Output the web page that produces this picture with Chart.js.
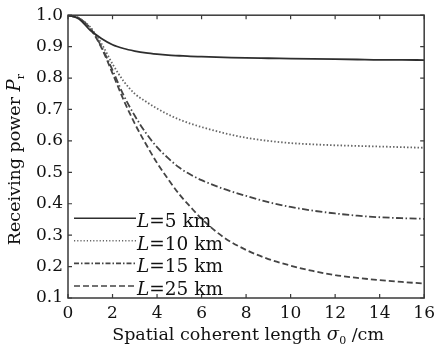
<!DOCTYPE html>
<html>
<head>
<meta charset="utf-8">
<script src="https://cdn.jsdelivr.net/npm/chart.js@4.4.1/dist/chart.umd.min.js"></script>
<style>
  html, body { margin: 0; padding: 0; background: #fff; }
  #wrap { width: 440px; height: 351px; }
</style>
</head>
<body>
<div id="wrap"><canvas id="powerChart" width="440" height="351"></canvas></div>
<script>
// ----------------- Data -----------------
const sigma0 = [0, 0.5, 1, 1.5, 2, 2.5, 3, 3.5, 4, 4.5, 5, 5.5, 6, 7, 8, 9, 10, 11, 12, 13, 14, 15, 16];
const pL5  = [1.0, 0.988, 0.952, 0.926, 0.906, 0.894, 0.886, 0.880, 0.876, 0.873, 0.871, 0.869, 0.868, 0.866, 0.864, 0.863, 0.862, 0.861, 0.860, 0.859, 0.858, 0.858, 0.857];
const pL10 = [1.0, 0.990, 0.962, 0.910, 0.845, 0.790, 0.750, 0.725, 0.703, 0.684, 0.668, 0.655, 0.644, 0.625, 0.610, 0.600, 0.593, 0.589, 0.586, 0.584, 0.582, 0.580, 0.578];
const pL15 = [1.0, 0.990, 0.958, 0.900, 0.825, 0.745, 0.680, 0.625, 0.580, 0.545, 0.515, 0.493, 0.475, 0.447, 0.425, 0.405, 0.390, 0.378, 0.369, 0.362, 0.357, 0.354, 0.352];
const pL25 = [1.0, 0.990, 0.957, 0.897, 0.815, 0.730, 0.655, 0.590, 0.530, 0.478, 0.430, 0.390, 0.352, 0.293, 0.253, 0.224, 0.203, 0.186, 0.173, 0.164, 0.157, 0.151, 0.146];
const legendLabels = ['=5 km', '=10 km', '=15 km', '=25 km'];
const xTicks = [0, 2, 4, 6, 8, 10, 12, 14, 16];
const yTicks = [0.1, 0.2, 0.3, 0.4, 0.5, 0.6, 0.7, 0.8, 0.9, 1.0];

// ----------------- Styles -----------------
const serif = "'DejaVu Serif', serif";
const lineStyles = [
  { color: '#2e2e2e', dash: [],                 legendDash: [] },
  { color: '#666666', dash: [1.5, 2],           legendDash: [1.2, 2] },
  { color: '#444444', dash: [7, 2.5, 1.5, 2.5], legendDash: [5, 2, 1.5, 2] },
  { color: '#444444', dash: [6, 3],             legendDash: [6, 3] }
];
const seriesList = [pL5, pL10, pL15, pL25];

const datasets = seriesList.map((vals, i) => ({
  label: 'L' + legendLabels[i],
  data: sigma0.map((x, j) => ({ x: x, y: vals[j] })),
  borderColor: lineStyles[i].color,
  borderDash: lineStyles[i].dash,
  borderWidth: 1.8,
  pointRadius: 0,
  fill: false,
  cubicInterpolationMode: 'monotone'
}));

// ----------------- Plugins -----------------
// frame + inward ticks on all four sides
const framePlugin = {
  id: 'frame',
  afterDatasetsDraw(chart) {
    const { ctx, chartArea: a, scales } = chart;
    ctx.save();
    ctx.strokeStyle = '#3a3a3a';
    ctx.lineWidth = 1.5;
    ctx.setLineDash([]);
    ctx.strokeRect(a.left, a.top, a.right - a.left, a.bottom - a.top);
    ctx.lineWidth = 1.2;
    ctx.beginPath();
    xTicks.forEach(t => {
      const px = scales.x.getPixelForValue(t);
      ctx.moveTo(px, a.bottom); ctx.lineTo(px, a.bottom - 4);
      ctx.moveTo(px, a.top);    ctx.lineTo(px, a.top + 4);
    });
    yTicks.forEach(t => {
      const py = scales.y.getPixelForValue(t);
      ctx.moveTo(a.left, py);  ctx.lineTo(a.left + 4, py);
      ctx.moveTo(a.right, py); ctx.lineTo(a.right - 4, py);
    });
    ctx.stroke();
    ctx.restore();
  }
};

// draw a run of text pieces: [text, font, dy]
function drawPieces(ctx, pieces, x, y) {
  let cx = x;
  pieces.forEach(p => {
    ctx.font = p[1];
    ctx.fillText(p[0], cx, y + (p[2] || 0));
    cx += ctx.measureText(p[0]).width;
  });
}
function piecesWidth(ctx, pieces) {
  let w = 0;
  pieces.forEach(p => { ctx.font = p[1]; w += ctx.measureText(p[0]).width; });
  return w;
}

const titlesPlugin = {
  id: 'titles',
  afterDraw(chart) {
    const { ctx, chartArea: a } = chart;
    ctx.save();
    ctx.fillStyle = '#111';
    ctx.textBaseline = 'alphabetic';
    ctx.textAlign = 'left';

    // x title
    const xp = [
      ['Spatial coherent length ', '17.5px ' + serif],
      ['σ', 'italic 18px ' + serif],
      ['0', '11px ' + serif, 4],
      [' /cm', '17.5px ' + serif]
    ];
    const xw = piecesWidth(ctx, xp);
    drawPieces(ctx, xp, (a.left + a.right) / 2 - xw / 2 + 2, 340);

    // y title
    const yp = [
      ['Receiving power ', '17.5px ' + serif],
      ['P', 'italic 18px ' + serif],
      ['r', '11px ' + serif, 4]
    ];
    const yw = piecesWidth(ctx, yp);
    ctx.translate(20, (a.top + a.bottom) / 2 + 3);
    ctx.rotate(-Math.PI / 2);
    drawPieces(ctx, yp, -yw / 2, 0);
    ctx.restore();

    // legend
    ctx.save();
    ctx.fillStyle = '#111';
    legendLabels.forEach((lab, i) => {
      const y = a.bottom - 12 - (3 - i) * 22.6;
      ctx.strokeStyle = lineStyles[i].color;
      ctx.lineWidth = 1.6;
      ctx.setLineDash(lineStyles[i].legendDash);
      ctx.beginPath();
      ctx.moveTo(a.left + 6, y);
      ctx.lineTo(a.left + 68, y);
      ctx.stroke();
      drawPieces(ctx, [['L', 'italic 18.5px ' + serif], [lab, '18.5px ' + serif]], a.left + 69, y + 9);
    });
    ctx.restore();
  }
};

// ----------------- Chart Setup -----------------
const ctx = document.getElementById('powerChart').getContext('2d');
const powerChart = new Chart(ctx, {
  type: 'line',
  data: { datasets: datasets },
  options: {
    responsive: false,
    animation: false,
    layout: { padding: { top: 14, right: 11, left: 0, bottom: 0 } },
    plugins: {
      legend: { display: false },
      tooltip: { enabled: false }
    },
    scales: {
      x: {
        type: 'linear',
        min: 0,
        max: 16,
        afterFit: s => { s.height = 53; },
        afterBuildTicks: s => { s.ticks = xTicks.map(v => ({ value: v })); },
        grid: { display: false, drawTicks: false },
        border: { display: false },
        ticks: {
          color: '#111',
          padding: 5,
          maxRotation: 0,
          font: { family: serif, size: 17 }
        }
      },
      y: {
        min: 0.1,
        max: 1.0,
        afterFit: s => { s.width = 68; },
        afterBuildTicks: s => { s.ticks = yTicks.map(v => ({ value: v })); },
        grid: { display: false, drawTicks: false },
        border: { display: false },
        ticks: {
          color: '#111',
          padding: 5,
          font: { family: serif, size: 17 },
          callback: v => v.toFixed(1)
        }
      }
    }
  },
  plugins: [framePlugin, titlesPlugin]
});
</script>
</body>
</html>
